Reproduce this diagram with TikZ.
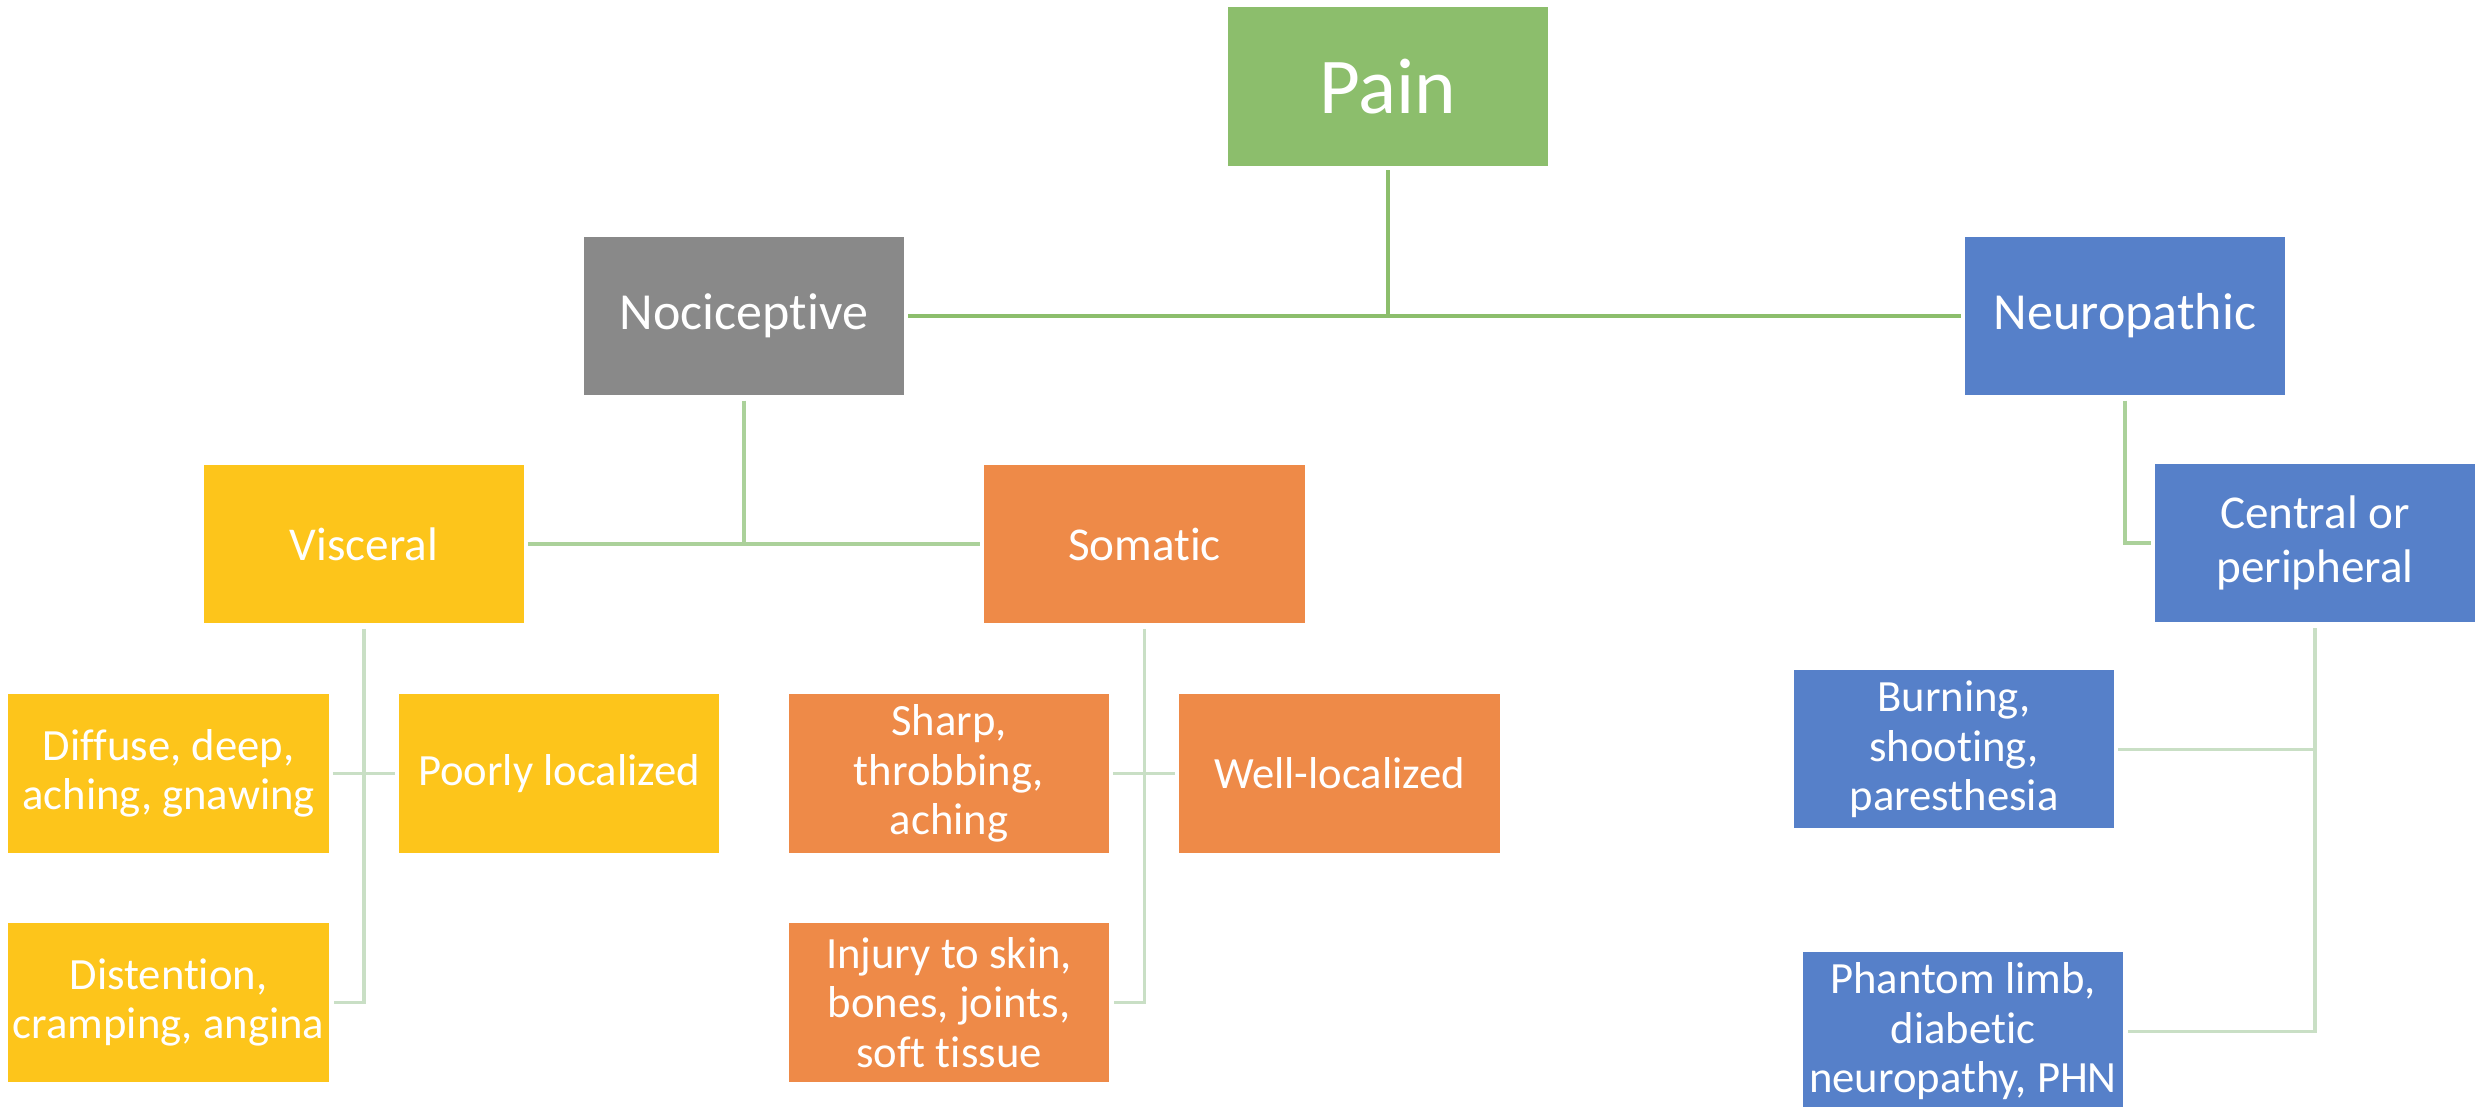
\documentclass[tikz,border=0pt]{standalone}
\usepackage{fontspec}
\setmainfont{Carlito}[Ligatures=NoCommon]
\definecolor{painGreen}{RGB}{140,190,108}
\definecolor{nociGray}{RGB}{137,137,137}
\definecolor{neuroBlue}{RGB}{86,128,201}
\definecolor{viscYellow}{RGB}{253,197,27}
\definecolor{somOrange}{RGB}{238,138,72}
\definecolor{lineA}{RGB}{140,190,108}
\definecolor{lineB}{RGB}{171,209,154}
\definecolor{lineC}{RGB}{201,223,197}
\tikzset{
  box/.style={rectangle, inner sep=0pt, minimum width=3.2cm, minimum height=1.58cm,
    text=white, align=center},
  toptext/.style={font=\fontsize{22.5}{26}\selectfont},
  midtext/.style={font=\fontsize{14.8}{16.8}\selectfont},
  subtext/.style={font=\fontsize{13.4}{15.3}\selectfont},
  leaftext/.style={font=\fontsize{12.7}{14}\selectfont},
  linkA/.style={draw=lineA, line width=1.1pt},
  linkB/.style={draw=lineB, line width=1.1pt},
  linkC/.style={draw=lineC, line width=1.0pt},
}
\begin{document}
\begin{tikzpicture}[x=0.01cm, y=-0.01cm]
\useasboundingbox (0,0) rectangle (2476,1107);
\clip (0,0) rectangle (2476,1107);

% boxes
\node[box, toptext, fill=painGreen] (pain) at (1388,86.5) {Pain};
\node[box, midtext, fill=nociGray] (noci) at (744,315.6) {Nociceptive};
\node[box, midtext, fill=neuroBlue] (neuro) at (2125,315.6) {Neuropathic};
\node[box, subtext, fill=viscYellow] (visc) at (364,544.3) {Visceral};
\node[box, subtext, fill=somOrange] (som) at (1144.5,544.3) {Somatic};
\node[box, subtext, fill=neuroBlue] (central) at (2315,543) {Central or\\peripheral};
\node[box, leaftext, fill=viscYellow] (diffuse) at (168.5,773.5) {Diffuse, deep,\\aching, gnawing};
\node[box, leaftext, fill=viscYellow] (poorly) at (559,773.5) {Poorly localized};
\node[box, leaftext, fill=viscYellow] (disten) at (168.5,1002.5) {Distention,\\cramping, angina};
\node[box, leaftext, fill=somOrange] (sharp) at (949,773.5) {Sharp,\\throbbing,\\aching};
\node[box, leaftext, fill=somOrange] (well) at (1339.5,773.5) {Well-localized};
\node[box, leaftext, fill=somOrange] (injury) at (949,1002.5) {Injury to skin,\\bones, joints,\\soft tissue};
\node[box, leaftext, fill=neuroBlue] (burn) at (1954,749.3) {Burning,\\shooting,\\paresthesia};
\node[box, leaftext, fill=neuroBlue] (phantom) at (1963,1031.3) {Phantom limb,\\diabetic\\neuropathy, PHN};

% junction points
\coordinate (jPain) at (pain.south |- noci.east);
\coordinate (jNoci) at (noci.south |- visc.east);
\coordinate (jNeuro) at (neuro.south |- central.west);
\coordinate (jViscEnd) at (visc.south |- disten.east);
\coordinate (jSomEnd) at (som.south |- injury.east);
\coordinate (jCenBurn) at (central.south |- burn.east);
\coordinate (jCenEnd) at (central.south |- phantom.east);

% first level
\draw[linkA, shorten <=1.2pt] (pain.south) -- (jPain);
\draw[linkA, shorten <=1pt, shorten >=1pt] (noci.east) -- (neuro.west);

% second level
\draw[linkB, shorten <=1.5pt] (noci.south) -- (jNoci);
\draw[linkB, shorten <=1pt, shorten >=1pt] (visc.east) -- (som.west);
\draw[linkB, shorten <=1.5pt] (neuro.south) -- (jNeuro) -- ([xshift=-1pt]central.west);

% third level
\draw[linkC, shorten <=1.5pt] (visc.south) -- (jViscEnd) -- ([xshift=1.2pt]disten.east);
\draw[linkC, shorten <=1pt, shorten >=1pt] (diffuse.east) -- (poorly.west);
\draw[linkC, shorten <=1.5pt] (som.south) -- (jSomEnd) -- ([xshift=1.2pt]injury.east);
\draw[linkC, shorten <=1pt, shorten >=1pt] (sharp.east) -- (well.west);
\draw[linkC, shorten <=1.5pt] (central.south) -- (jCenEnd) -- ([xshift=1.2pt]phantom.east);
\draw[linkC, shorten <=1pt] (burn.east) -- (jCenBurn);
\end{tikzpicture}
\end{document}
